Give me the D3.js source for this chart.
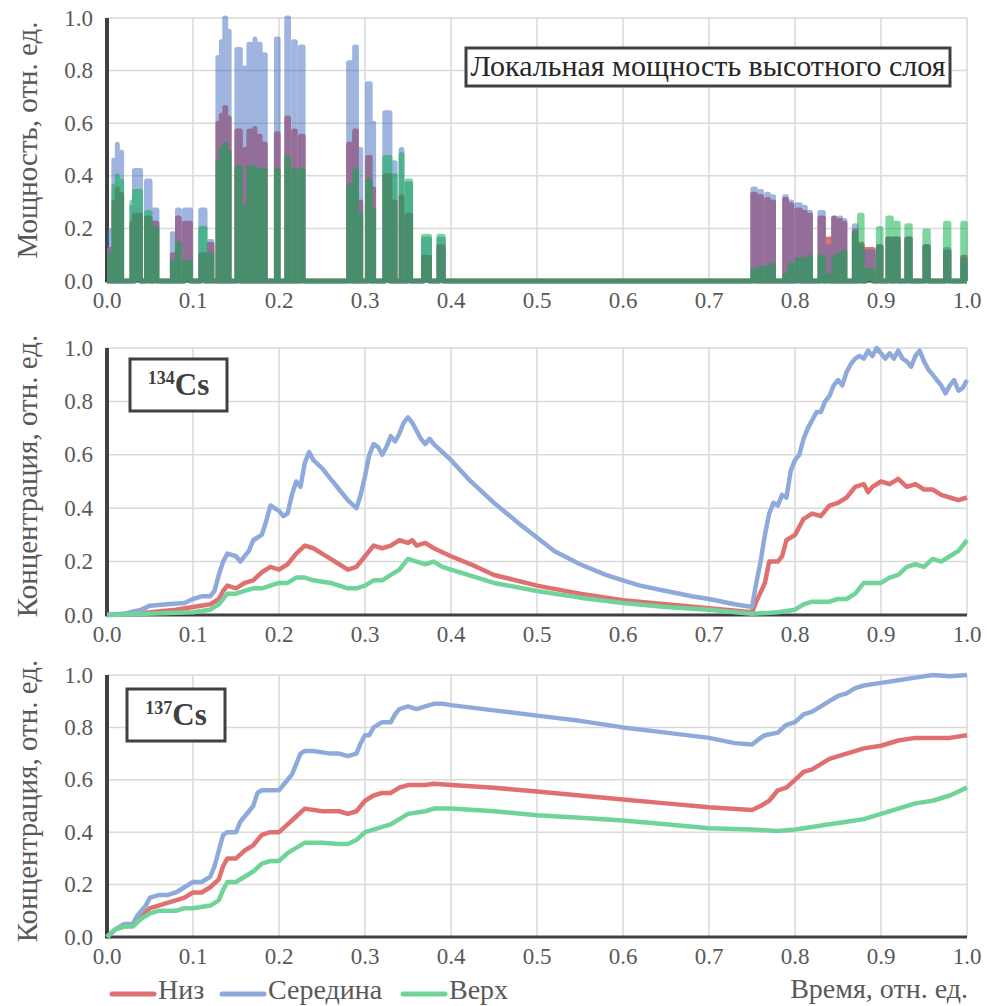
<!DOCTYPE html>
<html>
<head>
<meta charset="utf-8">
<script src="https://cdn.jsdelivr.net/npm/d3@7"></script>
<style>
  html, body { margin: 0; padding: 0; background: #fff; }
  svg { display: block; }
</style>
</head>
<body>
<svg id="chart" width="987" height="1006" font-family="'Liberation Serif', 'Times New Roman', serif"></svg>
<script>
// ---- Local power of the high-altitude layer: switch-on intervals (relative time) ----
const pulseStart = [0.003,0.008,0.012,0.016,0.029,0.032,0.046,0.054,0.076,0.082,0.090,0.109,0.119,
  0.129,0.133,0.137,0.142,0.151,0.160,0.165,0.172,0.176,0.182,0.197,0.209,0.217,0.225,
  0.281,0.288,0.294,0.303,0.310,0.323,0.333,0.342,0.349,0.368,0.386,
  0.751,0.759,0.767,0.773,0.788,0.794,0.802,0.810,0.816,0.829,0.838,0.845,0.851,0.857,
  0.869,0.875,0.882,0.897,0.908,0.916,0.930,0.951,0.975,0.995];
const pulseEnd = [0.004,0.008,0.012,0.017,0.029,0.039,0.050,0.058,0.078,0.084,0.097,0.114,0.122,
  0.129,0.133,0.138,0.142,0.155,0.161,0.167,0.172,0.178,0.184,0.199,0.211,0.219,0.228,
  0.284,0.290,0.295,0.306,0.310,0.329,0.335,0.343,0.353,0.375,0.391,
  0.754,0.761,0.769,0.775,0.790,0.796,0.806,0.812,0.818,0.833,0.841,0.846,0.853,0.858,
  0.871,0.878,0.891,0.900,0.912,0.920,0.934,0.955,0.979,0.998];
// power level during each interval, per layer
const powerLow = [0.12,0.30,0.35,0.33,0.22,0.25,0.24,0.22,0.10,0.24,0.22,0.10,0.14,
  0.60,0.63,0.66,0.62,0.57,0.50,0.57,0.58,0.55,0.52,0.56,0.62,0.57,0.55,
  0.52,0.57,0.30,0.47,0.35,0.40,0.30,0.32,0.25,0.09,0.13,
  0.33,0.32,0.31,0.30,0.31,0.29,0.27,0.26,0.25,0.24,0.16,0.24,0.23,0.22,
  0.19,0.14,0.12,0.13,0.16,0.16,0.16,0.13,0.11,0.09];
const powerMid = [0.19,0.46,0.52,0.49,0.28,0.42,0.38,0.27,0.18,0.27,0.27,0.27,0.15,
  0.85,0.91,1.00,0.95,0.88,0.81,0.90,0.92,0.90,0.86,0.92,1.00,0.91,0.89,
  0.83,0.89,0.50,0.75,0.60,0.64,0.45,0.50,0.37,0.16,0.16,
  0.35,0.34,0.33,0.32,0.32,0.30,0.29,0.28,0.26,0.26,0.13,0.24,0.24,0.23,
  0.21,0.13,0.11,0.13,0.16,0.16,0.16,0.13,0.12,0.08];
const powerTop = [0.10,0.36,0.40,0.38,0.30,0.34,0.26,0.20,0.07,0.14,0.07,0.20,0.10,
  0.45,0.50,0.52,0.49,0.43,0.28,0.43,0.43,0.42,0.42,0.42,0.47,0.42,0.42,
  0.36,0.42,0.25,0.38,0.27,0.47,0.40,0.48,0.38,0.17,0.17,
  0.04,0.05,0.05,0.06,0.02,0.06,0.08,0.08,0.09,0.09,0.02,0.09,0.10,0.11,
  0.18,0.25,0.04,0.20,0.24,0.22,0.21,0.19,0.22,0.22];

// ---- 134Cs concentration [time, value] ----
const cs134Low = [[0,0],[0.05,0.01],[0.08,0.02],[0.1,0.03],[0.12,0.04],[0.13,0.06],[0.135,0.09],[0.14,0.11],[0.15,0.1],[0.16,0.12],[0.17,0.13],[0.18,0.16],[0.19,0.18],[0.2,0.17],[0.21,0.19],[0.22,0.23],[0.23,0.26],[0.24,0.25],[0.25,0.23],[0.26,0.21],[0.27,0.19],[0.28,0.17],[0.29,0.18],[0.3,0.22],[0.31,0.26],[0.32,0.25],[0.33,0.26],[0.34,0.28],[0.35,0.27],[0.355,0.28],[0.36,0.26],[0.37,0.27],[0.38,0.25],[0.4,0.22],[0.43,0.18],[0.45,0.15],[0.5,0.11],[0.55,0.08],[0.6,0.055],[0.65,0.04],[0.7,0.025],[0.75,0.01],[0.755,0.05],[0.765,0.12],[0.77,0.2],[0.78,0.2],[0.785,0.22],[0.79,0.28],[0.8,0.3],[0.81,0.36],[0.82,0.38],[0.83,0.37],[0.84,0.41],[0.85,0.42],[0.86,0.44],[0.87,0.48],[0.88,0.49],[0.885,0.46],[0.89,0.48],[0.9,0.5],[0.91,0.49],[0.92,0.51],[0.93,0.48],[0.94,0.49],[0.95,0.47],[0.96,0.47],[0.97,0.45],[0.98,0.44],[0.99,0.43],[1.0,0.44]];
const cs134Mid = [[0,0],[0.02,0.005],[0.04,0.02],[0.05,0.035],[0.07,0.04],[0.09,0.045],[0.1,0.06],[0.11,0.07],[0.12,0.07],[0.125,0.09],[0.13,0.15],[0.135,0.2],[0.14,0.23],[0.15,0.22],[0.155,0.2],[0.165,0.24],[0.17,0.28],[0.18,0.3],[0.185,0.35],[0.19,0.41],[0.2,0.39],[0.205,0.37],[0.21,0.38],[0.215,0.45],[0.22,0.5],[0.225,0.48],[0.23,0.57],[0.235,0.61],[0.24,0.58],[0.25,0.55],[0.26,0.51],[0.27,0.47],[0.28,0.43],[0.29,0.4],[0.295,0.45],[0.3,0.52],[0.305,0.6],[0.31,0.64],[0.315,0.63],[0.32,0.6],[0.325,0.63],[0.33,0.67],[0.335,0.65],[0.34,0.68],[0.345,0.72],[0.35,0.74],[0.355,0.72],[0.36,0.69],[0.365,0.66],[0.37,0.64],[0.375,0.66],[0.38,0.64],[0.39,0.61],[0.4,0.58],[0.42,0.51],[0.45,0.42],[0.48,0.34],[0.5,0.29],[0.52,0.24],[0.55,0.19],[0.58,0.15],[0.6,0.13],[0.62,0.11],[0.65,0.09],[0.68,0.07],[0.7,0.06],[0.73,0.04],[0.75,0.03],[0.755,0.12],[0.76,0.2],[0.765,0.3],[0.77,0.38],[0.775,0.42],[0.78,0.41],[0.785,0.45],[0.79,0.44],[0.795,0.54],[0.8,0.58],[0.805,0.6],[0.81,0.66],[0.815,0.7],[0.82,0.73],[0.825,0.76],[0.83,0.76],[0.835,0.8],[0.84,0.82],[0.845,0.86],[0.85,0.88],[0.855,0.86],[0.86,0.91],[0.865,0.94],[0.87,0.96],[0.875,0.97],[0.88,0.96],[0.885,0.99],[0.89,0.97],[0.895,1.0],[0.9,0.98],[0.905,0.96],[0.91,0.98],[0.915,0.96],[0.92,0.99],[0.925,0.96],[0.93,0.95],[0.935,0.93],[0.94,0.97],[0.945,0.99],[0.95,0.95],[0.955,0.92],[0.96,0.9],[0.965,0.88],[0.97,0.86],[0.975,0.83],[0.98,0.86],[0.985,0.88],[0.99,0.84],[0.995,0.85],[1.0,0.88]];
const cs134Top = [[0,0],[0.1,0.01],[0.12,0.02],[0.13,0.04],[0.14,0.08],[0.15,0.08],[0.16,0.09],[0.17,0.1],[0.18,0.1],[0.19,0.11],[0.2,0.12],[0.21,0.12],[0.22,0.14],[0.23,0.14],[0.24,0.13],[0.26,0.12],[0.27,0.11],[0.28,0.1],[0.29,0.1],[0.3,0.11],[0.31,0.13],[0.32,0.13],[0.33,0.15],[0.34,0.17],[0.35,0.21],[0.36,0.2],[0.37,0.19],[0.38,0.2],[0.39,0.18],[0.4,0.17],[0.45,0.12],[0.5,0.09],[0.55,0.065],[0.6,0.045],[0.65,0.03],[0.7,0.02],[0.75,0.005],[0.78,0.01],[0.8,0.02],[0.81,0.04],[0.82,0.05],[0.84,0.05],[0.85,0.06],[0.86,0.06],[0.87,0.08],[0.88,0.12],[0.89,0.12],[0.9,0.12],[0.91,0.14],[0.92,0.15],[0.93,0.18],[0.94,0.19],[0.95,0.18],[0.96,0.21],[0.97,0.2],[0.98,0.22],[0.99,0.24],[1.0,0.28]];

// ---- 137Cs concentration [time, value] ----
const cs137Low = [[0,0],[0.01,0.03],[0.02,0.04],[0.03,0.045],[0.04,0.08],[0.05,0.11],[0.06,0.12],[0.07,0.13],[0.08,0.14],[0.09,0.15],[0.1,0.17],[0.11,0.17],[0.12,0.19],[0.13,0.22],[0.135,0.27],[0.14,0.3],[0.15,0.3],[0.16,0.33],[0.17,0.35],[0.18,0.39],[0.19,0.4],[0.2,0.4],[0.21,0.43],[0.22,0.46],[0.23,0.49],[0.25,0.48],[0.27,0.48],[0.28,0.47],[0.29,0.48],[0.3,0.52],[0.31,0.54],[0.32,0.55],[0.33,0.55],[0.34,0.57],[0.35,0.58],[0.37,0.58],[0.38,0.585],[0.4,0.58],[0.45,0.57],[0.5,0.555],[0.55,0.54],[0.6,0.525],[0.65,0.51],[0.7,0.495],[0.75,0.485],[0.76,0.5],[0.77,0.52],[0.78,0.56],[0.79,0.57],[0.8,0.6],[0.81,0.63],[0.82,0.64],[0.83,0.66],[0.84,0.68],[0.86,0.7],[0.88,0.72],[0.9,0.73],[0.92,0.75],[0.94,0.76],[0.96,0.76],[0.98,0.76],[1.0,0.77]];
const cs137Mid = [[0,0],[0.01,0.03],[0.02,0.05],[0.03,0.05],[0.035,0.08],[0.045,0.12],[0.05,0.15],[0.06,0.16],[0.07,0.16],[0.08,0.17],[0.09,0.19],[0.1,0.21],[0.11,0.21],[0.12,0.23],[0.125,0.27],[0.13,0.33],[0.135,0.39],[0.14,0.4],[0.15,0.4],[0.155,0.44],[0.16,0.46],[0.17,0.5],[0.175,0.55],[0.18,0.56],[0.2,0.56],[0.21,0.6],[0.215,0.62],[0.22,0.66],[0.225,0.7],[0.23,0.71],[0.24,0.71],[0.26,0.7],[0.27,0.7],[0.28,0.69],[0.29,0.7],[0.295,0.74],[0.3,0.77],[0.305,0.77],[0.31,0.8],[0.32,0.82],[0.33,0.82],[0.335,0.85],[0.34,0.87],[0.35,0.88],[0.36,0.87],[0.37,0.88],[0.38,0.89],[0.39,0.89],[0.4,0.885],[0.45,0.865],[0.5,0.845],[0.55,0.825],[0.6,0.8],[0.65,0.78],[0.7,0.76],[0.73,0.74],[0.75,0.735],[0.76,0.76],[0.765,0.77],[0.78,0.78],[0.79,0.81],[0.8,0.82],[0.81,0.85],[0.82,0.86],[0.83,0.88],[0.84,0.9],[0.85,0.92],[0.86,0.93],[0.87,0.95],[0.88,0.96],[0.9,0.97],[0.92,0.98],[0.94,0.99],[0.96,1.0],[0.98,0.995],[1.0,1.0]];
const cs137Top = [[0,0],[0.01,0.03],[0.02,0.04],[0.03,0.04],[0.04,0.07],[0.05,0.09],[0.06,0.1],[0.08,0.1],[0.09,0.11],[0.1,0.11],[0.12,0.12],[0.13,0.14],[0.135,0.18],[0.14,0.21],[0.15,0.21],[0.16,0.23],[0.17,0.25],[0.18,0.28],[0.19,0.29],[0.2,0.29],[0.21,0.32],[0.22,0.34],[0.23,0.36],[0.25,0.36],[0.27,0.355],[0.28,0.355],[0.29,0.37],[0.3,0.4],[0.31,0.41],[0.32,0.42],[0.33,0.43],[0.34,0.45],[0.35,0.47],[0.37,0.48],[0.38,0.49],[0.4,0.49],[0.45,0.48],[0.5,0.465],[0.55,0.455],[0.6,0.445],[0.65,0.43],[0.7,0.415],[0.75,0.41],[0.78,0.405],[0.8,0.41],[0.82,0.42],[0.84,0.43],[0.86,0.44],[0.88,0.45],[0.9,0.47],[0.92,0.49],[0.94,0.51],[0.96,0.52],[0.98,0.54],[1.0,0.57]];

// ---- Labels ----
const xTicks = [0,0.1,0.2,0.3,0.4,0.5,0.6,0.7,0.8,0.9,1.0];
const yTicks = [0,0.2,0.4,0.6,0.8,1.0];
const seriesNames = ["Низ","Середина","Верх"];
const powerTitle = "Мощность, отн. ед.";
const concTitle = "Концентрация, отн. ед.";
const xTitle = "Время, отн. ед.";
const powerCaption = "Локальная мощность высотного слоя";
const isotopes = [{mass:"134", el:"Cs"},{mass:"137", el:"Cs"}];

// ---- Drawing ----
const svg = d3.select("#chart");
const lineColors = ["#e07070", "#8eaadb", "#6fd39a"];
const textColor = "#595959";
const axisColor = "#404040";
const gridColor = "#d9d9d9";
const tickSize = 23, titleSize = 29;

const x = d3.scaleLinear().domain([0, 1]).range([107, 967]);
const panels = [
  {top: 18, bottom: 281, titleY: 140},
  {top: 348, bottom: 615, titleY: 476},
  {top: 675, bottom: 937, titleY: 801}
];

function drawFrame(p, title) {
  const y = d3.scaleLinear().domain([0, 1]).range([p.bottom, p.top]);
  const g = svg.append("g");
  // grid
  g.append("g").selectAll("line").data(xTicks.slice(1)).join("line")
    .attr("x1", d => x(d)).attr("x2", d => x(d))
    .attr("y1", p.top).attr("y2", p.bottom)
    .attr("stroke", gridColor).attr("stroke-width", 1.5);
  g.append("g").selectAll("line").data(yTicks.slice(1)).join("line")
    .attr("x1", x(0)).attr("x2", x(1))
    .attr("y1", d => y(d)).attr("y2", d => y(d))
    .attr("stroke", gridColor).attr("stroke-width", 1.5);
  // tick labels
  g.append("g").selectAll("text").data(yTicks).join("text")
    .attr("x", 93).attr("y", d => y(d)).attr("dy", "0.33em")
    .attr("text-anchor", "end").attr("font-size", tickSize).attr("fill", textColor)
    .text(d => d3.format(".1f")(d));
  g.append("g").selectAll("text").data(xTicks).join("text")
    .attr("x", d => x(d)).attr("y", p.bottom + 27)
    .attr("text-anchor", "middle").attr("font-size", tickSize).attr("fill", textColor)
    .text(d => d3.format(".1f")(d));
  // axis title
  g.append("text")
    .attr("transform", `translate(37,${p.titleY}) rotate(-90)`)
    .attr("text-anchor", "middle").attr("font-size", titleSize).attr("fill", textColor)
    .text(title);
  return {y, g};
}

function drawAxes(p) {
  svg.append("line").attr("x1", x(0)).attr("x2", x(1)).attr("y1", p.bottom).attr("y2", p.bottom)
    .attr("stroke", axisColor).attr("stroke-width", 3);
  svg.append("line").attr("x1", x(0)).attr("x2", x(0)).attr("y1", p.top).attr("y2", p.bottom + 1.5)
    .attr("stroke", axisColor).attr("stroke-width", 4);
}

// Panel 1: power pulses
{
  const p = panels[0];
  const {y} = drawFrame(p, powerTitle);
  drawAxes(p);
  const levels = [powerLow, powerMid, powerTop];
  // lower layer opaque, the other two half-transparent on top of it
  const styles = [
    {color: "#e67070", opacity: 1},
    {color: "#416dc1", opacity: 0.5},
    {color: "#00af41", opacity: 0.5}
  ];
  levels.forEach((lv, k) => {
    const pts = [[0, 0]];
    pulseStart.forEach((s, i) => {
      pts.push([s, 0], [s, lv[i]], [pulseEnd[i], lv[i]], [pulseEnd[i], 0]);
    });
    pts.push([1, 0]);
    const g = svg.append("g").attr("opacity", styles[k].opacity);
    g.append("path").datum(pts)
      .attr("d", d3.area().x(d => x(d[0])).y0(y(0)).y1(d => y(d[1])))
      .attr("fill", styles[k].color);
    g.append("path").datum(pts)
      .attr("d", d3.line().x(d => x(d[0])).y(d => y(d[1])))
      .attr("fill", "none").attr("stroke", styles[k].color)
      .attr("stroke-width", 5).attr("stroke-linejoin", "round");
  });
  // caption box
  svg.append("rect").attr("x", 466).attr("y", 48).attr("width", 484).attr("height", 38)
    .attr("fill", "#fff").attr("stroke", axisColor).attr("stroke-width", 3);
  svg.append("text").attr("x", 708).attr("y", 76).attr("text-anchor", "middle")
    .attr("font-size", 30).attr("fill", "#262626").text(powerCaption);
}

// Panels 2, 3: concentrations
[[cs134Low, cs134Mid, cs134Top], [cs137Low, cs137Mid, cs137Top]].forEach((set, j) => {
  const p = panels[j + 1];
  const {y} = drawFrame(p, concTitle);
  drawAxes(p);
  const line = d3.line().x(d => x(d[0])).y(d => y(d[1]));
  set.forEach((s, k) => {
    svg.append("path").datum(s).attr("d", line)
      .attr("fill", "none").attr("stroke", lineColors[k])
      .attr("stroke-width", 4.5).attr("stroke-linejoin", "round");
  });
  const bx = j === 0 ? {x: 130, y: 359, w: 97} : {x: 127, y: 689, w: 98};
  svg.append("rect").attr("x", bx.x).attr("y", bx.y).attr("width", bx.w).attr("height", 52)
    .attr("fill", "#fff").attr("stroke", axisColor).attr("stroke-width", 3);
  const t = svg.append("text").attr("x", bx.x + bx.w / 2).attr("y", bx.y + 36)
    .attr("text-anchor", "middle").attr("font-weight", "bold").attr("fill", "#404040");
  t.append("tspan").attr("font-size", 18).attr("dy", -11).text(isotopes[j].mass);
  t.append("tspan").attr("font-size", 31).attr("dy", 11).text(isotopes[j].el);
});

// Legend and x-axis title
const legendX = [112, 222, 403];
seriesNames.forEach((name, k) => {
  svg.append("line").attr("x1", legendX[k]).attr("x2", legendX[k] + 42)
    .attr("y1", 994).attr("y2", 994)
    .attr("stroke", lineColors[k]).attr("stroke-width", 5).attr("stroke-linecap", "round");
  svg.append("text").attr("x", legendX[k] + 46).attr("y", 999)
    .attr("font-size", 28).attr("fill", textColor).text(name);
});
svg.append("text").attr("x", 968).attr("y", 998).attr("text-anchor", "end")
  .attr("font-size", 28).attr("fill", textColor).text(xTitle);
</script>
</body>
</html>
